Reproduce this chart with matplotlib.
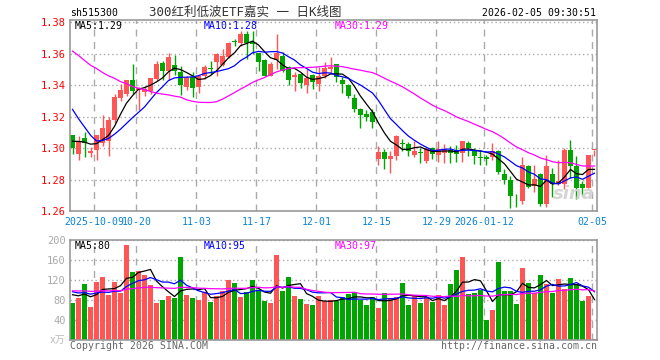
import numpy as np
import matplotlib
matplotlib.use("Agg")
import matplotlib.pyplot as plt

# 88 daily bars, 2025-09-25 .. 2026-02-05
tick_idx = [4, 11, 21, 31, 41, 51, 61, 69, 87]
tick_labels = ["2025-10-09", "10-20", "11-03", "11-17", "12-01",
               "12-15", "12-29", "2026-01-12", "02-05"]

opens = [1.308, 1.2965, 1.3065, 1.2967, 1.2985, 1.3033, 1.3046, 1.3179, 1.3315, 1.3346,
         1.3433, 1.3367, 1.3355, 1.336, 1.3436, 1.3538, 1.349, 1.353, 1.3485, 1.3387,
         1.3449, 1.3388, 1.3456, 1.3508, 1.3544, 1.353, 1.3575, 1.368, 1.3665, 1.3727,
         1.3673, 1.3606, 1.3558, 1.346, 1.356, 1.3585, 1.3513, 1.3448, 1.347, 1.3398,
         1.3465, 1.3408, 1.346, 1.3502, 1.3533, 1.3433, 1.3398, 1.3315, 1.3248, 1.3215,
         1.3227, 1.2933, 1.2975, 1.2929, 1.295, 1.303, 1.3027, 1.2956, 1.2977, 1.2915,
         1.2998, 1.2956, 1.2967, 1.2985, 1.299, 1.2969, 1.3035, 1.2985, 1.2944, 1.294,
         1.2941, 1.2982, 1.2832, 1.2795, 1.2688, 1.2666, 1.2885, 1.276, 1.2832, 1.2645,
         1.2832, 1.277, 1.277, 1.2989, 1.2884, 1.2774, 1.2745, 1.2988]
highs = [1.3085, 1.3075, 1.310, 1.3006, 1.3081, 1.321, 1.3198, 1.334, 1.3404, 1.3435,
         1.3533, 1.3385, 1.3392, 1.3446, 1.355, 1.3552, 1.3605, 1.359, 1.352, 1.3455,
         1.348, 1.3466, 1.3525, 1.3554, 1.3606, 1.3627, 1.3673, 1.369, 1.374, 1.374,
         1.3742, 1.3606, 1.3565, 1.3544, 1.3727, 1.361, 1.352, 1.348, 1.3477, 1.350,
         1.347, 1.3512, 1.3544, 1.3575, 1.3535, 1.345, 1.3408, 1.3346, 1.3252, 1.3242,
         1.3248, 1.3013, 1.2996, 1.2981, 1.3085, 1.306, 1.304, 1.3042, 1.3002, 1.3006,
         1.3006, 1.3042, 1.3023, 1.3013, 1.302, 1.3046, 1.3042, 1.300, 1.2988, 1.2957,
         1.303, 1.2989, 1.2865, 1.2823, 1.2711, 1.294, 1.289, 1.2895, 1.2844, 1.2957,
         1.2874, 1.2927, 1.2999, 1.3051, 1.2947, 1.279, 1.2953, 1.299]
lows = [1.296, 1.2923, 1.294, 1.294, 1.2923, 1.3012, 1.295, 1.316, 1.330, 1.333,
        1.3346, 1.3242, 1.333, 1.3345, 1.3425, 1.343, 1.3432, 1.3465, 1.3337, 1.337,
        1.3326, 1.335, 1.344, 1.347, 1.346, 1.352, 1.3569, 1.365, 1.365, 1.3565,
        1.3596, 1.3492, 1.3456, 1.3456, 1.3502, 1.348, 1.340, 1.336, 1.3381, 1.3352,
        1.3373, 1.336, 1.3444, 1.347, 1.3419, 1.3352, 1.3315, 1.3227, 1.3127, 1.3169,
        1.3127, 1.2892, 1.2867, 1.2844, 1.2923, 1.298, 1.2948, 1.2946, 1.2908, 1.2908,
        1.293, 1.291, 1.2908, 1.2904, 1.291, 1.291, 1.2948, 1.2896, 1.2895, 1.2895,
        1.2926, 1.2832, 1.2771, 1.262, 1.2624, 1.2645, 1.2745, 1.2718, 1.2631, 1.2628,
        1.2686, 1.2765, 1.2739, 1.2811, 1.2676, 1.2697, 1.2745, 1.2947]
closes = [1.300, 1.3044, 1.3031, 1.2983, 1.308, 1.3127, 1.3177, 1.3321, 1.3367, 1.3433,
          1.3363, 1.3383, 1.3372, 1.3446, 1.3535, 1.349, 1.3576, 1.349, 1.340, 1.3443,
          1.3383, 1.346, 1.3513, 1.3502, 1.3596, 1.3585, 1.3669, 1.3673, 1.3727, 1.3665,
          1.366, 1.3548, 1.346, 1.3533, 1.3606, 1.3492, 1.3433, 1.3465, 1.3415, 1.3446,
          1.3419, 1.346, 1.351, 1.3517, 1.345, 1.3408, 1.3331, 1.3248, 1.321, 1.3196,
          1.3165, 1.2975, 1.2929, 1.2948, 1.3079, 1.3023, 1.2981, 1.2981, 1.2969, 1.2996,
          1.296, 1.2992, 1.2988, 1.2971, 1.2965, 1.3046, 1.300, 1.2952, 1.2939, 1.2932,
          1.2982, 1.2849, 1.2795, 1.2697, 1.2686, 1.2895, 1.2753, 1.2801, 1.2645, 1.2885,
          1.277, 1.2791, 1.2989, 1.2884, 1.2749, 1.2745, 1.2953, 1.299]
volumes = [75, 85, 113, 66, 117, 127, 90, 117, 95, 191,
           137, 139, 131, 111, 74, 80, 88, 84, 167, 90,
           84, 80, 96, 76, 88, 98, 121, 115, 86, 96,
           121, 101, 78, 74, 171, 98, 127, 88, 82, 72,
           70, 88, 79, 80, 79, 86, 92, 96, 80, 70,
           86, 64, 94, 84, 86, 115, 70, 90, 74, 86,
           76, 90, 70, 113, 141, 167, 92, 94, 101, 40,
           60, 157, 98, 98, 72, 145, 115, 94, 131, 113,
           94, 123, 102, 125, 113, 78, 88, 2]

# closes / volumes of the 29 sessions before the window (for the moving averages)
hist_close = [1.388, 1.396, 1.391, 1.371, 1.388, 1.381, 1.380, 1.400, 1.382, 1.390,
              1.371, 1.367, 1.378, 1.384, 1.367, 1.373, 1.373, 1.358, 1.395, 1.368,
              1.364, 1.355, 1.351, 1.345, 1.309, 1.305, 1.305, 1.305, 1.3065]
hist_vol = [98, 105, 92, 110, 96, 101, 94, 108, 99, 103,
            97, 95, 106, 100, 93, 104, 98, 102, 96, 99,
            110, 105, 98, 92, 110, 96, 94, 95, 95]

RED = "#ff5555"
GREEN = "#00a600"
MONO = "DejaVu Sans Mono"
FS = 7.1
W, H = 660, 360


def px(x, y):
    return x / W, 1 - y / H


def ma(hist, vals, n):
    full = np.array(hist + vals, dtype=float)
    k = len(hist)
    return np.array([full[k + i - n + 1:k + i + 1].mean() for i in range(len(vals))])


o = np.array(opens)
h = np.array(highs)
l = np.array(lows)
c = np.array(closes)
v = np.array(volumes)
x = np.arange(len(c))
up = c >= o
cols = np.where(up, RED, GREEN)

fig = plt.figure(figsize=(6.6, 3.6), dpi=100)
fig.patch.set_facecolor("white")
ax = fig.add_axes([70 / W, 1 - 211 / H, 527 / W, 191 / H])
av = fig.add_axes([70 / W, 1 - 340 / H, 527 / W, 100 / H])

xlim = (-0.4167, 87.4167)
vpos = [i - 0.35 for i in tick_idx]

for a in (ax, av):
    a.set_xlim(*xlim)
    for s in a.spines.values():
        s.set_color("#999999")
        s.set_linewidth(1.2)
    a.set_xticks(vpos)
    a.grid(axis="x", color="#aaaaaa", linestyle=(0, (5, 4)), linewidth=1)
    a.grid(axis="y", color="#aaaaaa", linestyle=(0, (1, 2)), linewidth=1)
    a.set_axisbelow(True)
    a.tick_params(length=0)

# price panel
ax.vlines(x, l, h, colors=cols, linewidth=1)
body = np.maximum(np.abs(c - o), 0.0004)
ax.bar(x, body, bottom=np.minimum(o, c), width=0.83, color=cols, linewidth=0)
ax.plot(x, ma(hist_close, closes, 5), color="black", lw=0.9)
ax.plot(x, ma(hist_close, closes, 10), color="#0000ff", lw=0.9)
ax.plot(x, ma(hist_close, closes, 30), color="#ff00ff", lw=0.9)
ax.set_ylim(1.26, 1.3813)
ax.set_yticks([1.26, 1.28, 1.30, 1.32, 1.34, 1.36, 1.38])
ax.set_yticklabels(["%.2f" % t for t in ax.get_yticks()], color="#ff0000",
                   family=MONO, fontsize=7.5)
ax.set_xticklabels(tick_labels, color="#0a82d2", family=MONO, fontsize=FS)
ax.tick_params(axis="y", pad=3)
ax.tick_params(axis="x", pad=4)
ax.text(0.955, 0.04, "sina", transform=ax.transAxes, ha="center", va="bottom",
        fontsize=13, fontweight="bold", style="italic", color="#d5d5d5")

# volume panel
av.bar(x, v, width=0.83, color=cols, linewidth=0)
av.plot(x, ma(hist_vol, volumes, 5), color="black", lw=0.9)
av.plot(x, ma(hist_vol, volumes, 10), color="#0000ff", lw=0.9)
av.plot(x, ma(hist_vol, volumes, 30), color="#ff00ff", lw=0.9)
av.set_ylim(0, 201)
av.set_yticks([40, 80, 120, 160, 200])
av.set_yticklabels(["40", "80", "120", "160", "200"], color="#aaaaaa",
                   family=MONO, fontsize=7.5)
av.set_xticklabels([])
av.tick_params(axis="y", pad=3)

# texts
fig.text(*px(70, 13), "sh515300", ha="left", va="center", family=MONO, fontsize=FS)
fig.text(*px(245, 12), "300红利低波ETF嘉实 一 日K线图", ha="center", va="center",
         family=[MONO, "Noto Sans CJK SC"], fontsize=9, color="#333333")
fig.text(*px(596, 13), "2026-02-05 09:30:51", ha="right", va="center",
         family=MONO, fontsize=FS)
fig.text(*px(75, 26), "MA5:1.29", ha="left", va="center", family=MONO, fontsize=FS, color="black")
fig.text(*px(204, 26), "MA10:1.28", ha="left", va="center", family=MONO, fontsize=FS, color="#0000ff")
fig.text(*px(335, 26), "MA30:1.29", ha="left", va="center", family=MONO, fontsize=FS, color="#ff00ff")
fig.text(*px(75, 246), "MA5:80", ha="left", va="center", family=MONO, fontsize=FS, color="black")
fig.text(*px(204, 246), "MA10:95", ha="left", va="center", family=MONO, fontsize=FS, color="#0000ff")
fig.text(*px(335, 246), "MA30:97", ha="left", va="center", family=MONO, fontsize=FS, color="#ff00ff")
fig.text(*px(65, 340), "x万", ha="right", va="center", family=[MONO, "Noto Sans CJK SC"],
         fontsize=7, color="#bbbbbb")
fig.text(*px(70, 346), "Copyright 2026 SINA.COM", ha="left", va="center",
         family=MONO, fontsize=FS, color="#666666")
fig.text(*px(597, 346), "http://finance.sina.com.cn", ha="right", va="center",
         family=MONO, fontsize=FS, color="#666666")

fig.savefig("out.png", dpi=100)
